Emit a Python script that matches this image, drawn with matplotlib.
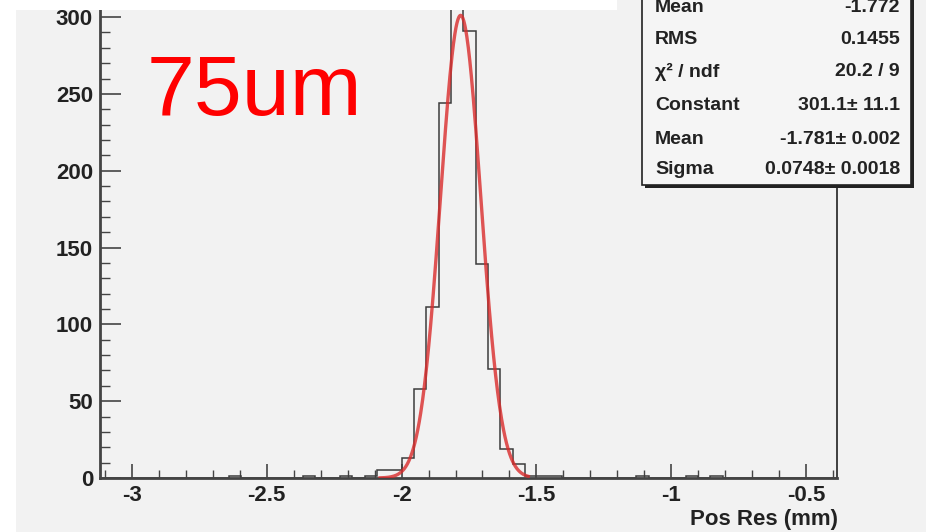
import numpy as np
import matplotlib
matplotlib.use("Agg")
import matplotlib.pyplot as plt
import matplotlib.patches as patches
from matplotlib.ticker import MultipleLocator

# Data
# ------------------------------------------------------------------------------
bin_start = -3.0992
bin_width = 0.0458
counts = [0, 0, 0, 0, 0, 0, 0, 0, 0, 0,
          1, 0, 0, 0, 0, 0, 1, 0, 0, 1,
          0, 1, 5, 5, 13, 58, 111, 244, 305, 291,
          139, 71, 19, 9, 1, 1, 1, 0, 0, 0,
          0, 0, 0, 1, 0, 0, 0, 1, 0, 1,
          0, 0, 0, 0, 0, 0, 0, 0, 0, 0]

fit_const = 301.1
fit_mean = -1.781
fit_sigma = 0.0748
fit_range = (-2.08, -1.53)

stat_labels = ["Mean", "RMS", "\u03c7\u00b2 / ndf", "Constant", "Mean", "Sigma"]
stat_values = ["-1.772", "0.1455", "20.2 / 9", "301.1\u00b1 11.1",
               "-1.781\u00b1 0.002", "0.0748\u00b1 0.0018"]

x_label = "Pos Res (mm)"
tag = "75um"

# Figure
# ------------------------------------------------------------------------------
W, H = 926, 532
grey = "#f2f2f2"
plt.rcParams["font.family"] = ["Liberation Sans", "DejaVu Sans"]

fig = plt.figure(figsize=(W / 100, H / 100), dpi=100, facecolor=grey)

def fx(px):
    return px / W

def fy(py):
    return 1 - py / H

# white strips of the screenshot
fig.patches.append(patches.Rectangle((0, 0), fx(16), 1, transform=fig.transFigure,
                                     facecolor="white", edgecolor="none", zorder=0))
fig.patches.append(patches.Rectangle((0, fy(10)), fx(617), 1, transform=fig.transFigure,
                                     facecolor="white", edgecolor="none", zorder=0))

ax_l, ax_r, ax_b, ax_t = 100, 837, 478, -10
ax = fig.add_axes([fx(ax_l), fy(ax_b), fx(ax_r - ax_l), (ax_b - ax_t) / H])
ax.set_facecolor(grey)

edges = bin_start + bin_width * np.arange(len(counts) + 1)
ax.stairs(counts, edges, color="#3c3c3c", lw=1.1, zorder=2)

xs = np.linspace(fit_range[0], fit_range[1], 300)
ys = fit_const * np.exp(-0.5 * ((xs - fit_mean) / fit_sigma) ** 2)
ax.plot(xs, ys, color="#d92b2b", lw=2.4, alpha=0.8, zorder=3)

ax.set_xlim(-3.1187, -0.385)
ax.set_ylim(0, 317.6)

ax.xaxis.set_major_locator(MultipleLocator(0.5))
ax.xaxis.set_minor_locator(MultipleLocator(0.1))
ax.yaxis.set_major_locator(MultipleLocator(50))
ax.yaxis.set_minor_locator(MultipleLocator(10))
ax.xaxis.set_major_formatter(plt.FuncFormatter(lambda v, p: f"{v:g}"))
ax.tick_params(axis="x", which="major", direction="in", length=10, width=1.2,
               color="#444444", labelsize=16, pad=5)
ax.tick_params(axis="x", which="minor", direction="in", length=5.5, width=1.0,
               color="#444444")
ax.tick_params(axis="y", which="major", direction="in", length=15, width=1.2,
               color="#444444", labelsize=16, pad=5)
ax.tick_params(axis="y", which="minor", direction="in", length=7, width=1.0,
               color="#444444")
for lab in ax.get_xticklabels() + ax.get_yticklabels():
    lab.set_fontweight("bold")
    lab.set_color("#222222")

for side in ["left", "bottom"]:
    ax.spines[side].set_linewidth(2.0)
    ax.spines[side].set_color("#444444")
ax.spines["right"].set_linewidth(1.2)
ax.spines["right"].set_color("#222222")
ax.spines["top"].set_visible(False)

fig.text(fx(838), fy(519), x_label, ha="right", va="center", fontsize=16,
         fontweight="bold", color="#222222")

fig.text(fx(147), fy(115), tag, ha="left", va="baseline", fontsize=62, color="#ff0000")

# stats box with shadow
bx0, bx1, by0, by1 = 642, 911, -20, 185
fig.patches.append(patches.Rectangle((fx(bx0 + 3), fy(by1 + 3)), fx(bx1 - bx0), (by1 - by0) / H,
                                     transform=fig.transFigure, facecolor="#222222",
                                     edgecolor="none", zorder=4))
fig.patches.append(patches.Rectangle((fx(bx0), fy(by1)), fx(bx1 - bx0), (by1 - by0) / H,
                                     transform=fig.transFigure, facecolor="#f5f5f5",
                                     edgecolor="#222222", lw=1.2, zorder=5))
row_y = [8, 40, 72, 105, 139, 170]
for lab, val, py in zip(stat_labels, stat_values, row_y):
    fig.text(fx(655), fy(py), lab, ha="left", va="center", fontsize=14,
             fontweight="bold", color="#222222", zorder=6)
    fig.text(fx(900), fy(py), val, ha="right", va="center", fontsize=14,
             fontweight="bold", color="#222222", zorder=6)

fig.savefig("out.png", dpi=100, facecolor=grey)
